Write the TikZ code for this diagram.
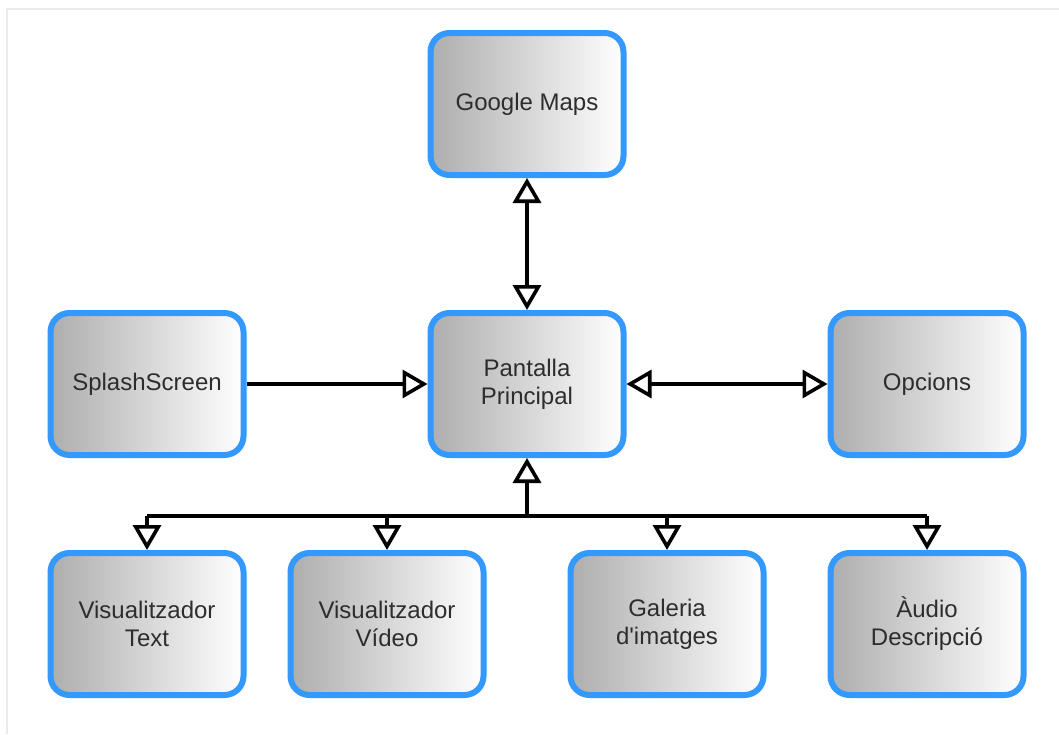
\documentclass[tikz,border=0pt]{standalone}
\usepackage{fontspec}
\setmainfont{Liberation Sans}
\usepackage{tikz}
\usetikzlibrary{positioning, arrows.meta, calc}
\definecolor{screenblue}{RGB}{51,153,255}
\definecolor{labelgray}{RGB}{45,45,45}

\begin{document}
\begin{tikzpicture}[
    x=1pt, y=-1pt,
    screen/.style={rectangle, draw=screenblue, line width=6pt, rounded corners=19pt,
                   left color=black!32, right color=white,
                   minimum width=193pt, minimum height=142pt,
                   align=center, text=labelgray,
                   font=\fontsize{24}{28}\selectfont},
    link/.style={line width=3.2pt},
    >={Triangle[open, length=25pt, width=28pt, line width=3.6pt]}
]
\useasboundingbox (0,0) rectangle (1059,734);
\draw[black!8, line width=2pt] (7,734) -- (7,9) -- (1059,9);

% Screens
\node[screen] (maps) at (527,104) {Google Maps};
\node[screen] (main) at (527,384) {Pantalla\\Principal};
\node[screen] (splash) at (147,384) {SplashScreen};
\node[screen] (opcions) at (927,384) {Opcions};
\node[screen] (vtext) at (147,624) {Visualitzador\\Text};
\node[screen] (vvideo) at (387,624) {Visualitzador\\Vídeo};
\node[screen] (galeria) at (667,624) {Galeria\\d\textquotesingle imatges};
\node[screen] (audio) at (927,624) {Àudio\\Descripció};

% Navigation
\draw[link, <->] (maps) -- (main);
\draw[link, ->] (splash) -- (main);
\draw[link, <->] (main) -- (opcions);

% Bus to the viewers
\coordinate (bus) at (527,516);
\draw[link, <-] (main) -- (bus);
\draw[link] (bus -| vtext) -- (bus -| audio);
\foreach \n in {vtext, vvideo, galeria, audio}
    \draw[link, ->] (bus -| \n) -- (\n);
\end{tikzpicture}
\end{document}
